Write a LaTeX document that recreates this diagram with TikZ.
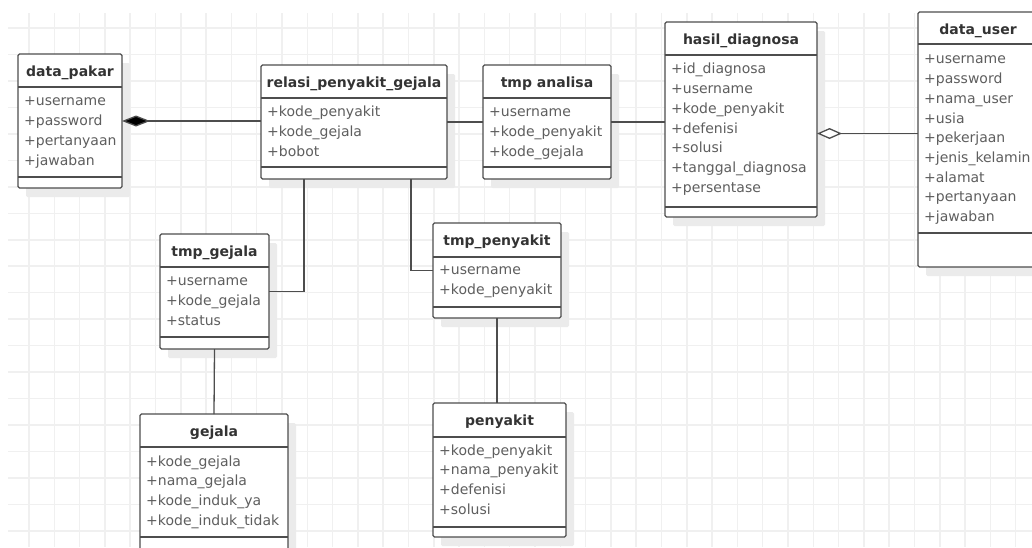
\documentclass[tikz,border=0pt]{standalone}
\usepackage{fontspec}
\setmainfont{DejaVu Sans}
\usetikzlibrary{arrows.meta,shadows}
\definecolor{umlLine}{HTML}{4D4D4D}
\definecolor{umlTitle}{HTML}{333333}
\definecolor{umlAttr}{HTML}{5E5E5E}
\definecolor{umlGrid}{HTML}{F0F0F0}
\definecolor{umlShadow}{HTML}{EBEBEB}
% #1 name, #2 left, #3 top, #4 width, #5 height, #6 title rule, #7 foot, #8 title, #9 attributes
\newcommand{\umlClass}[9]{%
  \node[clsbox, minimum width=#4pt, minimum height=#5pt] (#1) at (#2,#3) {};
  \draw[clsrule] ([yshift=-#6pt]#1.north west) -- ([yshift=-#6pt]#1.north east);
  \draw[clsrule] ([yshift=#7pt]#1.south west) -- ([yshift=#7pt]#1.south east);
  \node[clstitle] (#1-t) at ([yshift=-22pt]#1.north) {#8};
  \node[clsattr] (#1-a) at ([xshift=6pt,yshift=-38pt]#1.north west) {\strut #9};
}

\begin{document}
\begin{tikzpicture}[x=1pt,y=-1pt,
  gridline/.style={draw=umlGrid, line width=1.5pt},
  clsbox/.style={anchor=north west, draw=umlLine, line width=1.3pt, fill=white,
    rounded corners=1.5pt, inner sep=0pt, outer sep=0pt,
    drop shadow={fill=umlShadow, opacity=1, shadow xshift=8pt, shadow yshift=-9pt}},
  clsrule/.style={draw=umlLine, line width=1.3pt},
  clstitle/.style={anchor=base, inner sep=0pt, text=umlTitle,
    font=\bfseries\fontsize{14}{17}\selectfont},
  clsattr/.style={anchor=north west, align=left, inner sep=0pt, text=umlAttr,
    font=\fontsize{14}{19.7}\selectfont},
  conn/.style={draw=umlLine, line width=1.3pt}]
\useasboundingbox (0,0) rectangle (1032,547);
\clip (0,0) rectangle (1032,547);
\fill[white] (0,0) rectangle (1032,547);

% background grid
\foreach \gx in {0,...,39}
  \draw[gridline] ({29+25.3*\gx},13) -- ({29+25.3*\gx},547);
\foreach \gy in {0,...,19}
  \draw[gridline] (8,{28+26.47*\gy}) -- (1032,{28+26.47*\gy});

% classes
\umlClass{pakar}{18}{54}{104}{134}{33}{11}{data\_pakar}{+username\\+password\\+pertanyaan\\+jawaban}
\umlClass{relasi}{261}{65}{186}{114}{33}{12}{relasi\_penyakit\_gejala}{+kode\_penyakit\\+kode\_gejala\\+bobot}
\umlClass{analisa}{483}{65}{128}{114}{33}{12}{tmp analisa}{+username\\+kode\_penyakit\\+kode\_gejala}
\umlClass{hasil}{665}{22}{152}{195}{33}{10}{hasil\_diagnosa}{+id\_diagnosa\\+username\\+kode\_penyakit\\+defenisi\\+solusi\\+tanggal\_diagnosa\\+persentase}
\umlClass{user}{918}{12}{120}{255}{32}{34}{data\_user}{+username\\+password\\+nama\_user\\+usia\\+pekerjaan\\+jenis\_kelamin\\+alamat\\+pertanyaan\\+jawaban}
\umlClass{tmpgejala}{160}{234}{109}{115}{33}{12}{tmp\_gejala}{+username\\+kode\_gejala\\+status}
\umlClass{tmppenyakit}{433}{223}{128}{95}{34}{11}{tmp\_penyakit}{+username\\+kode\_penyakit}
\umlClass{gejala}{140}{414}{148}{145}{33}{22}{gejala}{+kode\_gejala\\+nama\_gejala\\+kode\_induk\_ya\\+kode\_induk\_tidak}
\umlClass{penyakit}{433}{403}{133}{134}{34}{10}{penyakit}{+kode\_penyakit\\+nama\_penyakit\\+defenisi\\+solusi}

% relations
\draw[conn, -{Diamond[fill=black,length=28pt,width=11pt]}] (relasi.west |- pakar.east) -- (pakar.east);
\draw[conn] (relasi.east) -- (analisa.west);
\draw[conn] (analisa.east) -- (hasil.west |- analisa.east);
\draw[conn, -{Diamond[fill=white,length=25pt,width=11pt]}] ([yshift=6pt]user.west) -- ([yshift=-14pt]hasil.east);
\draw[conn] (tmpgejala.east) -| ([xshift=-50pt]relasi.south);
\draw[conn] (tmppenyakit.west) -| ([xshift=57pt]relasi.south);
\draw[conn] (tmpgejala.south) -- (gejala.north);
\draw[conn] (tmppenyakit.south) -- (tmppenyakit.south |- penyakit.north);
\end{tikzpicture}
\end{document}
